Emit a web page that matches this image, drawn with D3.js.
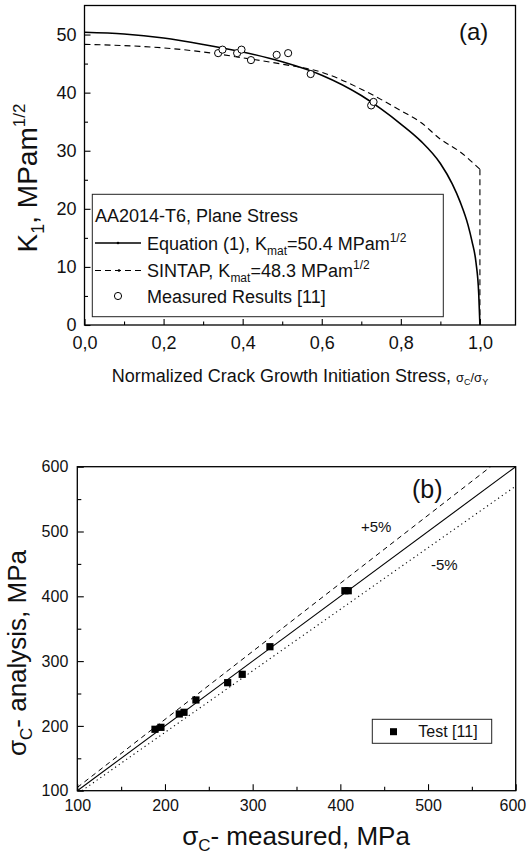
<!DOCTYPE html>
<html>
<head>
<meta charset="utf-8">
<script src="https://cdnjs.cloudflare.com/ajax/libs/d3/7.8.5/d3.min.js"></script>
<style>
    body { margin: 0; background: #fff; }
    svg { display: block; font-family: Arial, "Liberation Sans", sans-serif; }
</style>
</head>
<body>
<script>
(function (d3) {
    'use strict';

    // ---- panel (a) data ----
    var equationX = [0, 0.1, 0.2, 0.3, 0.4, 0.5, 0.6, 0.7, 0.75, 0.8, 0.85, 0.9, 0.93, 0.95, 0.97, 0.98, 0.99, 0.997, 1.0];
    var equationK = [50.4, 50.1, 49.4, 48.3, 47.0, 45.3, 43.0, 39.5, 37.2, 34.6, 31.7, 27.8, 24.3, 21.2, 17.2, 14.4, 10.8, 5.4, 0];
    var sintapX = [0, 0.1, 0.2, 0.3, 0.4, 0.5, 0.6, 0.7, 0.8, 0.85, 0.9, 0.95, 1.0];
    var sintapK = [48.3, 48.1, 47.7, 47.0, 46.0, 44.9, 43.5, 40.6, 36.9, 34.9, 32.0, 29.8, 26.8];
    // vertical cut-off of the SINTAP curve at sigma_C/sigma_Y = 1
    var sintapCutX = [1.0, 1.0];
    var sintapCutK = [26.8, 0];
    var measuredX = [0.338, 0.349, 0.386, 0.397, 0.421, 0.486, 0.515, 0.572, 0.725, 0.731];
    var measuredK = [46.8, 47.4, 46.8, 47.4, 45.6, 46.5, 46.8, 43.2, 37.8, 38.4];

    var xTicksA = [0, 0.2, 0.4, 0.6, 0.8, 1.0];
    var xTickLabelsA = ['0,0', '0,2', '0,4', '0,6', '0,8', '1,0'];
    var xMinorA = [0.1, 0.3, 0.5, 0.7, 0.9];
    var yTicksA = [0, 10, 20, 30, 40, 50];
    var yMinorA = [5, 15, 25, 35, 45];

    // ---- panel (b) data ----
    var testMeasured = [188.6, 195.4, 216.3, 221.7, 235.3, 271.5, 288.1, 319.7, 405.2, 409.0];
    var testAnalysis = [194.8, 197.8, 218.4, 221.0, 240.0, 266.7, 279.6, 322.2, 408.6, 408.6];
    var equalX = [100, 600], equalY = [100, 600];
    var upperX = [100, 571.4], upperY = [105, 600];
    var lowerX = [105.3, 600], lowerY = [100, 570];

    var ticksB = [100, 200, 300, 400, 500, 600];
    var minorB = [150, 250, 350, 450, 550];

    var svg = d3.select('body').append('svg')
        .attr('width', 527)
        .attr('height', 858);

    function zip(xs, ys) {
        return xs.map(function (v, i) { return [v, ys[i]]; });
    }

    // inward ticks on bottom + left, labels outside, box round the plot
    function drawFrame(x, y, o) {
        var g = svg.append('g');
        var x0 = y.range()[0];
        var xl = x.range()[0];

        g.append('g')
            .attr('class', 'x-major')
            .attr('transform', 'translate(0,' + x0 + ')')
            .call(d3.axisBottom(x).tickValues(o.xTicks)
                .tickSize(-o.major).tickSizeOuter(0).tickPadding(o.xPad)
                .tickFormat(function (d, i) { return o.xLabels ? o.xLabels[i] : d; }));
        g.append('g')
            .attr('transform', 'translate(0,' + x0 + ')')
            .call(d3.axisBottom(x).tickValues(o.xMinor).tickSize(-o.minor).tickSizeOuter(0).tickFormat(''));

        g.append('g')
            .attr('transform', 'translate(' + xl + ',0)')
            .call(d3.axisLeft(y).tickValues(o.yTicks)
                .tickSize(-o.major).tickSizeOuter(0).tickPadding(o.yPad));
        g.append('g')
            .attr('transform', 'translate(' + xl + ',0)')
            .call(d3.axisLeft(y).tickValues(o.yMinor).tickSize(-o.minor).tickSizeOuter(0).tickFormat(''));

        g.selectAll('.domain').remove();
        g.selectAll('.tick line').attr('stroke', '#000').attr('stroke-width', 1.1);
        g.selectAll('.tick text')
            .attr('fill', '#111')
            .style('font-size', o.fontSize + 'px')
            .style('font-family', 'Arial, "Liberation Sans", sans-serif');

        g.append('rect')
            .attr('x', x.range()[0])
            .attr('y', y.range()[1])
            .attr('width', x.range()[1] - x.range()[0])
            .attr('height', y.range()[0] - y.range()[1])
            .attr('fill', 'none')
            .attr('stroke', '#000')
            .attr('stroke-width', 1.3);
        return g;
    }

    // ****************** panel (a) ******************
    var xA = d3.scaleLinear().domain([0, 1.09]).range([84.5, 515.5]);
    var yA = d3.scaleLinear().domain([0, 55]).range([325, 5.5]);

    var lineA = d3.line()
        .x(function (d) { return xA(d[0]); })
        .y(function (d) { return yA(d[1]); });

    svg.append('path')
        .datum(zip(sintapX, sintapK))
        .attr('fill', 'none')
        .attr('stroke', '#000')
        .attr('stroke-width', 1.1)
        .attr('stroke-dasharray', '6,4')
        .attr('d', lineA.curve(d3.curveMonotoneX));
    svg.append('path')
        .datum(zip(sintapCutX, sintapCutK))
        .attr('fill', 'none')
        .attr('stroke', '#000')
        .attr('stroke-width', 1.1)
        .attr('stroke-dasharray', '6,4')
        .attr('d', lineA.curve(d3.curveLinear));

    svg.append('path')
        .datum(zip(equationX, equationK))
        .attr('fill', 'none')
        .attr('stroke', '#000')
        .attr('stroke-width', 1.6)
        .attr('d', lineA.curve(d3.curveMonotoneX));

    svg.append('g').selectAll('circle')
        .data(zip(measuredX, measuredK))
        .enter().append('circle')
        .attr('cx', function (d) { return xA(d[0]); })
        .attr('cy', function (d) { return yA(d[1]); })
        .attr('r', 3.6)
        .attr('fill', '#fff')
        .attr('stroke', '#000')
        .attr('stroke-width', 1);

    drawFrame(xA, yA, {
        xTicks: xTicksA, xLabels: xTickLabelsA, xMinor: xMinorA,
        yTicks: yTicksA, yMinor: yMinorA,
        major: 6, minor: 3.5, xPad: 11, yPad: 8, fontSize: 18
    });

    // axis titles
    var ya = svg.append('text')
        .attr('transform', 'translate(37,178) rotate(-90)')
        .attr('text-anchor', 'middle')
        .attr('fill', '#111')
        .style('font-size', '28px');
    ya.append('tspan').text('K');
    ya.append('tspan').attr('dy', 7).style('font-size', '18px').text('1');
    ya.append('tspan').attr('dy', -7).text(', MPam');
    ya.append('tspan').attr('dy', -12).style('font-size', '17px').text('1/2');

    var xa = svg.append('text')
        .attr('x', 300)
        .attr('y', 381.5)
        .attr('text-anchor', 'middle')
        .attr('fill', '#111')
        .style('font-size', '18px');
    xa.append('tspan').text('Normalized Crack Growth Initiation Stress, ');
    xa.append('tspan').style('font-size', '13px').text('\u03c3');
    xa.append('tspan').attr('dy', 3).style('font-size', '9px').text('C');
    xa.append('tspan').attr('dy', -3).style('font-size', '13px').text('/\u03c3');
    xa.append('tspan').attr('dy', 3).style('font-size', '9px').text('Y');

    svg.append('text')
        .attr('x', 459)
        .attr('y', 40)
        .attr('fill', '#111')
        .style('font-size', '24px')
        .text('(a)');

    // legend (a)
    var legA = svg.append('g');
    legA.append('rect')
        .attr('x', 92.3).attr('y', 194.3)
        .attr('width', 351).attr('height', 122.4)
        .attr('fill', '#fff')
        .attr('stroke', '#222')
        .attr('stroke-width', 1);

    function legText(y) {
        return legA.append('text')
            .attr('x', 147)
            .attr('y', y)
            .attr('fill', '#111')
            .style('font-size', '18px');
    }

    legA.append('text')
        .attr('x', 95).attr('y', 222)
        .attr('fill', '#111')
        .style('font-size', '18px')
        .text('AA2014-T6, Plane Stress');

    legA.append('line')
        .attr('x1', 95).attr('x2', 141).attr('y1', 243).attr('y2', 243)
        .attr('stroke', '#000').attr('stroke-width', 1.6);
    legA.append('circle').attr('cx', 118).attr('cy', 243).attr('r', 1.3).attr('fill', '#000');
    var t1 = legText(249.5);
    t1.append('tspan').text('Equation (1), K');
    t1.append('tspan').attr('dy', 5).style('font-size', '12px').text('mat');
    t1.append('tspan').attr('dy', -5).text('=50.4 MPam');
    t1.append('tspan').attr('dy', -8).style('font-size', '12px').text('1/2');

    legA.append('line')
        .attr('x1', 95).attr('x2', 143).attr('y1', 270.5).attr('y2', 270.5)
        .attr('stroke', '#000').attr('stroke-width', 1.1)
        .attr('stroke-dasharray', '6,4');
    legA.append('circle').attr('cx', 119).attr('cy', 270.5).attr('r', 1.3).attr('fill', '#000');
    var t2 = legText(276.5);
    t2.append('tspan').text('SINTAP, K');
    t2.append('tspan').attr('dy', 5).style('font-size', '12px').text('mat');
    t2.append('tspan').attr('dy', -5).text('=48.3 MPam');
    t2.append('tspan').attr('dy', -8).style('font-size', '12px').text('1/2');

    legA.append('circle')
        .attr('cx', 118).attr('cy', 296)
        .attr('r', 3.6)
        .attr('fill', '#fff').attr('stroke', '#000').attr('stroke-width', 1);
    legText(303).text('Measured Results [11]');

    // ****************** panel (b) ******************
    var xB = d3.scaleLinear().domain([100, 600]).range([77.3, 515.7]);
    var yB = d3.scaleLinear().domain([100, 600]).range([790.7, 466.7]);

    var lineB = d3.line()
        .x(function (d) { return xB(d[0]); })
        .y(function (d) { return yB(d[1]); });

    svg.append('path')
        .datum(zip(equalX, equalY))
        .attr('fill', 'none').attr('stroke', '#000').attr('stroke-width', 1.1)
        .attr('d', lineB);
    svg.append('path')
        .datum(zip(upperX, upperY))
        .attr('fill', 'none').attr('stroke', '#000').attr('stroke-width', 1)
        .attr('stroke-dasharray', '5,4')
        .attr('d', lineB);
    svg.append('path')
        .datum(zip(lowerX, lowerY))
        .attr('fill', 'none').attr('stroke', '#000').attr('stroke-width', 1.1)
        .attr('stroke-dasharray', '1.2,3.3')
        .attr('d', lineB);

    svg.append('g').selectAll('rect')
        .data(zip(testMeasured, testAnalysis))
        .enter().append('rect')
        .attr('x', function (d) { return xB(d[0]) - 3.6; })
        .attr('y', function (d) { return yB(d[1]) - 3.6; })
        .attr('width', 7.2)
        .attr('height', 7.2)
        .attr('fill', '#000');

    var frameB = drawFrame(xB, yB, {
        xTicks: ticksB, xMinor: minorB,
        yTicks: ticksB, yMinor: minorB,
        major: 6.5, minor: 4, xPad: 9, yPad: 9, fontSize: 16
    });
    // last x label sits at the page edge, keep it inside
    frameB.selectAll('.x-major .tick text')
        .filter(function (d) { return d === 600; })
        .attr('text-anchor', 'end')
        .attr('dx', 10);

    var yb = svg.append('text')
        .attr('transform', 'translate(26,653) rotate(-90)')
        .attr('text-anchor', 'middle')
        .attr('fill', '#111')
        .style('font-size', '26px');
    yb.append('tspan').text('\u03c3');
    yb.append('tspan').attr('dy', 6).style('font-size', '17px').text('C');
    yb.append('tspan').attr('dy', -6).text('- analysis, MPa');

    var xb = svg.append('text')
        .attr('x', 296)
        .attr('y', 845)
        .attr('text-anchor', 'middle')
        .attr('fill', '#111')
        .style('font-size', '26px');
    xb.append('tspan').text('\u03c3');
    xb.append('tspan').attr('dy', 6).style('font-size', '17px').text('C');
    xb.append('tspan').attr('dy', -6).text('- measured, MPa');

    svg.append('text')
        .attr('x', 412).attr('y', 498)
        .attr('fill', '#111')
        .style('font-size', '25px')
        .text('(b)');
    svg.append('text')
        .attr('x', 361).attr('y', 532)
        .attr('fill', '#111')
        .style('font-size', '15px')
        .text('+5%');
    svg.append('text')
        .attr('x', 431).attr('y', 570)
        .attr('fill', '#111')
        .style('font-size', '15px')
        .text('-5%');

    // legend (b)
    var legB = svg.append('g');
    legB.append('rect')
        .attr('x', 372.3).attr('y', 719.3)
        .attr('width', 119.4).attr('height', 24)
        .attr('fill', '#fff')
        .attr('stroke', '#222')
        .attr('stroke-width', 1);
    legB.append('rect')
        .attr('x', 390).attr('y', 728.2)
        .attr('width', 7).attr('height', 7)
        .attr('fill', '#000');
    legB.append('text')
        .attr('x', 418.3).attr('y', 737)
        .attr('fill', '#111')
        .style('font-size', '16px')
        .text('Test [11]');

}(window.d3));
</script>
</body>
</html>
